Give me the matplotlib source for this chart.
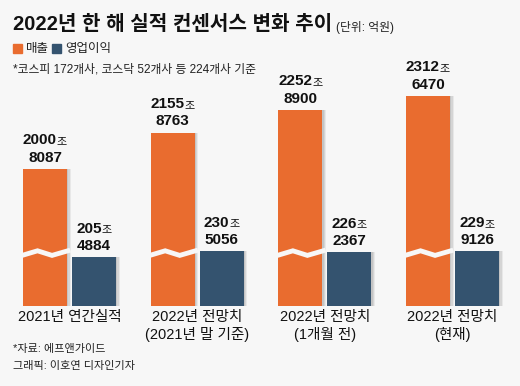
import numpy as np
import matplotlib.pyplot as plt
from matplotlib.offsetbox import TextArea, HPacker, VPacker, AnnotationBbox

plt.rcParams['font.family'] = ['Liberation Sans', 'Noto Sans CJK KR']

# 데이터 (단위: 조원, 소수점 이하 = 억원/10000)
categories = ['2021년 연간실적', '2022년 전망치\n(2021년 말 기준)',
              '2022년 전망치\n(1개월 전)', '2022년 전망치\n(현재)']
sales = [2000.8087, 2155.8763, 2252.8900, 2312.6470]
op_profit = [205.4884, 230.5056, 226.2367, 229.9126]

ORANGE = '#e96c2f'
NAVY = '#34536f'
BG = '#f7f7f7'

W, H = 520, 386
BREAK = 1420      # 매출 막대는 축을 끊어서 그림
K = 0.235         # px per 조
BASE = 305.5      # 막대 바닥 (위에서 px)
BREAK_Y = 223     # 끊김 표시 높이 (조 단위, 바닥 기준)

def split_val(v):
    jo = int(v)
    eok = int(round((v - jo) * 10000))
    return str(jo), '%04d' % eok

fig = plt.figure(figsize=(W / 100, H / 100), dpi=100)
fig.patch.set_facecolor(BG)

# x축: 그룹 간격 127.67px
sp = 127.67
c0 = 69.5
ax = fig.add_axes([0, (H - BASE) / H, 1, BASE / H])
ax.set_facecolor(BG)
ax.set_xlim(-c0 / sp, 3 + (W - (c0 + 3 * sp)) / sp)
ax.set_ylim(0, BASE / K)
ax.axis('off')

x = np.arange(len(categories))
bw = 44 / sp
off = 24.5 / sp
shift = 2.5 / sp

sales_h = [v - BREAK for v in sales]

# 그림자
for dx, a in [(shift * 1.4, 0.06), (shift, 0.08), (shift * 0.5, 0.08)]:
    ax.bar(x - off + dx, sales_h, bw, color='#000000', alpha=a, zorder=1, linewidth=0)
    ax.bar(x + off + dx, op_profit, bw, color='#000000', alpha=a, zorder=1, linewidth=0)

ax.bar(x - off, sales_h, bw, color=ORANGE, zorder=2, linewidth=0)
ax.bar(x + off, op_profit, bw, color=NAVY, zorder=2, linewidth=0)

# 끊김 표시
for xi in x:
    xl = xi - off - bw / 2
    xs = xl + np.array([-0.02, 0.33, 0.66, 1.02]) * bw
    ys = BREAK_Y + np.array([-1, 1, -1, 1]) * 2.3 / K
    ax.plot(xs, ys, color=BG, lw=3.5, zorder=3, solid_joinstyle='miter')

# 값 레이블
for i in range(len(categories)):
    for xc, v, h in [(x[i] - off, sales[i], sales_h[i]),
                     (x[i] + off, op_profit[i], op_profit[i])]:
        jo, eok = split_val(v)
        l1 = HPacker(children=[
            TextArea(jo, textprops=dict(fontsize=11, fontweight='bold', color='#111111')),
            TextArea('조', textprops=dict(fontsize=8, color='#111111'))],
            align='baseline', pad=0, sep=0)
        l2 = TextArea(eok, textprops=dict(fontsize=11, fontweight='bold', color='#111111'))
        box = VPacker(children=[l1, l2], align='center', pad=0, sep=2.5)
        ab = AnnotationBbox(box, (xc, h), xybox=(0, 3), xycoords='data',
                            boxcoords='offset points', box_alignment=(0.5, 0),
                            frameon=False, pad=0)
        ax.add_artist(ab)

def fy(py):
    return 1 - py / H

# x 레이블
for i, cat in enumerate(categories):
    fig.text((c0 + i * sp) / W, fy(310), cat, ha='center', va='top',
             fontsize=10.5, color='#111111', linespacing=1.25)

# 제목, 범례, 주석
fig.text(13 / W, fy(24), '2022년 한 해 실적 컨센서스 변화 추이', fontsize=14.5,
         fontweight='bold', va='center', ha='left', color='#111111')
fig.text(336 / W, fy(27), '(단위: 억원)', fontsize=8.5, va='center', ha='left',
         color='#222222')

fig.patches.append(plt.Rectangle((13 / W, fy(53)), 9 / W, 9 / H, color=ORANGE,
                                 transform=fig.transFigure, figure=fig))
fig.text(26 / W, fy(49), '매출', fontsize=9, va='center', ha='left', color='#222222')
fig.patches.append(plt.Rectangle((52 / W, fy(53)), 9 / W, 9 / H, color=NAVY,
                                 transform=fig.transFigure, figure=fig))
fig.text(65 / W, fy(49), '영업이익', fontsize=9, va='center', ha='left', color='#222222')

fig.text(13 / W, fy(70), '*코스피 172개사, 코스닥 52개사 등 224개사 기준',
         fontsize=8.5, va='center', ha='left', color='#222222')

fig.text(13 / W, fy(349), '*자료: 에프앤가이드', fontsize=8, va='center',
         ha='left', color='#222222')
fig.text(13 / W, fy(366), '그래픽: 이호연 디자인기자', fontsize=8, va='center',
         ha='left', color='#222222')

fig.savefig('out.png', dpi=100, facecolor=BG)
